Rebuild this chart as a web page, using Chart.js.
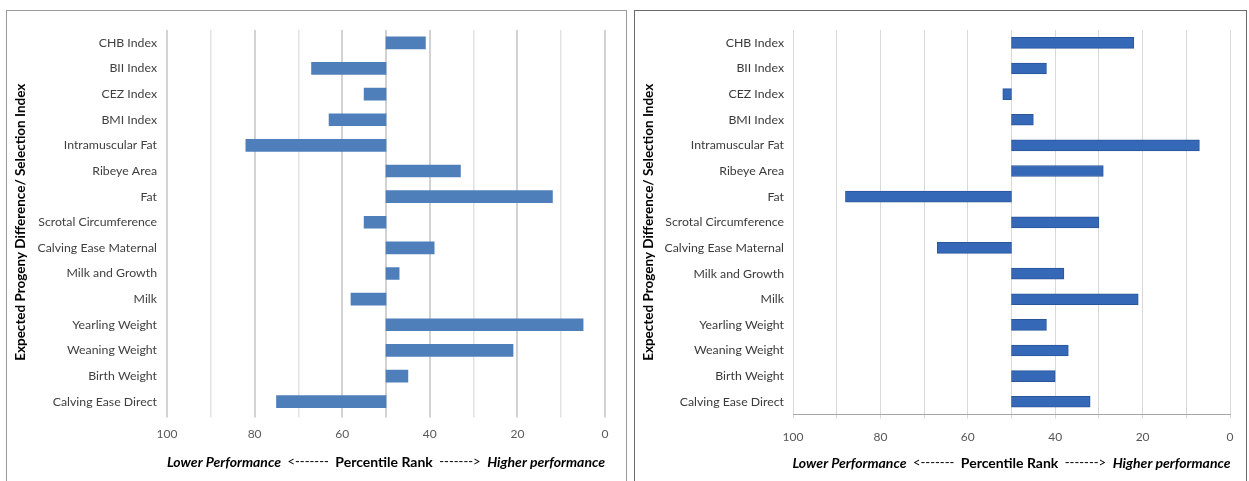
<!DOCTYPE html>
<html>
<head>
<meta charset="utf-8">
<script src="https://cdn.jsdelivr.net/npm/chart.js@4.4.1/dist/chart.umd.min.js"></script>
<style>
  html, body { margin: 0; padding: 0; background: #fff; width: 1249px; height: 481px; overflow: hidden; }
  .panel { position: absolute; box-sizing: border-box; background: #fff; }
  #p1 { left: 6px; top: 10px; width: 621px; height: 480px; border: 1px solid #9a9a9a; }
  #p2 { left: 634px; top: 10px; width: 613px; height: 480px; border: 1px solid #6a6a6a; }
  canvas { display: block; }
</style>
</head>
<body>
<div class="panel" id="p1"><canvas id="c1" width="619" height="478"></canvas></div>
<div class="panel" id="p2"><canvas id="c2" width="611" height="478"></canvas></div>
<script>
// ---- data ----
const categories = [
  'CHB Index', 'BII Index', 'CEZ Index', 'BMI Index', 'Intramuscular Fat',
  'Ribeye Area', 'Fat', 'Scrotal Circumference', 'Calving Ease Maternal',
  'Milk and Growth', 'Milk', 'Yearling Weight', 'Weaning Weight',
  'Birth Weight', 'Calving Ease Direct'
];
// percentile rank of each trait (bars start at the 50th percentile)
const leftValues  = [41, 67, 55, 63, 82, 33, 12, 55, 39, 47, 58, 5, 21, 45, 75];
const rightValues = [22, 42, 52, 45, 7, 29, 88, 30, 67, 38, 21, 42, 37, 40, 32];
const baseValue = 50;
const tickValues = [100, 80, 60, 40, 20, 0];
const yTitle = 'Expected Progeny Difference/ Selection Index';
const xTitleParts = ['Lower Performance', '<-------', 'Percentile Rank', '------->', 'Higher performance'];

// ---- drawing ----
Chart.defaults.font.family = 'Lato, "Liberation Sans", sans-serif';

const xTitlePlugin = {
  id: 'xTitle',
  afterDraw(chart, args, opts) {
    const ctx = chart.ctx;
    const area = chart.chartArea;
    const fonts = [
      'italic bold 14px Lato', '13px Lato', 'bold 14px Lato', '13px Lato', 'italic bold 14px Lato'
    ];
    const gap = 6.5;
    let widths = xTitleParts.map((t, i) => { ctx.font = fonts[i]; return ctx.measureText(t).width; });
    const total = widths.reduce((a, b) => a + b, 0) + gap * (xTitleParts.length - 1);
    let x = (area.left + area.right) / 2 - total / 2;
    ctx.save();
    ctx.fillStyle = opts.color || '#000';
    ctx.textBaseline = 'middle';
    ctx.textAlign = 'left';
    xTitleParts.forEach((t, i) => {
      ctx.font = fonts[i];
      ctx.fillText(t, x, opts.y);
      x += widths[i] + gap;
    });
    ctx.restore();
  }
};

function makeChart(id, values, s) {
  return new Chart(document.getElementById(id), {
    type: 'bar',
    data: {
      labels: categories,
      datasets: [{
        data: values.map(v => [baseValue, v]),
        backgroundColor: s.barColor,
        borderColor: s.barBorder,
        borderWidth: s.barBorderWidth,
        borderSkipped: false,
        barThickness: s.barThickness
      }]
    },
    options: {
      indexAxis: 'y',
      responsive: false,
      animation: false,
      layout: { padding: { top: s.padTop, right: s.padRight, left: 0, bottom: 0 } },
      plugins: {
        legend: { display: false },
        tooltip: { enabled: false },
        xTitle: { y: s.titleY, color: '#000' }
      },
      scales: {
        x: {
          type: 'linear',
          min: 0, max: 100, reverse: true,
          afterFit: sc => { sc.height = s.xHeight; },
          ticks: {
            stepSize: 10, autoSkip: false, maxRotation: 0,
            padding: s.tickPad,
            color: s.tickColor,
            font: { size: 12 },
            callback: v => tickValues.includes(v) ? String(v) : ''
          },
          grid: {
            drawTicks: true, tickLength: s.tickLen,
            color: c => s.gridColor(c.tick ? c.tick.value : 0),
            lineWidth: c => s.gridWidth(c.tick ? c.tick.value : 0)
          },
          border: { display: s.xBorder, color: '#a6a6a6', width: 1 }
        },
        y: {
          afterFit: sc => { sc.width = s.yWidth; },
          ticks: { padding: s.yPad, color: s.labelColor, font: { size: 12.3 }, autoSkip: false },
          grid: { display: false, drawTicks: false },
          border: { display: false },
          title: {
            display: true, text: yTitle, color: '#000',
            font: { size: 13.5, weight: 'bold' },
            padding: { top: 6, bottom: 0 }
          }
        }
      }
    },
    plugins: [xTitlePlugin]
  });
}

makeChart('c1', leftValues, {
  barColor: '#4f7fba', barBorder: '#4f7fba', barBorderWidth: 0, barThickness: 12,
  padTop: 19, padRight: 21, xHeight: 74.5, yWidth: 160, yPad: 10,
  tickPad: 9, tickLen: 3, tickColor: '#595959', labelColor: '#404040',
  gridColor: v => (v % 20 === 0 || v === 50) ? '#d2d2d2' : '#e2e2e2',
  gridWidth: v => (v % 20 === 0 || v === 50) ? 2 : 1.5,
  xBorder: false, titleY: 451
});

makeChart('c2', rightValues, {
  barColor: '#3668b8', barBorder: '#2b5599', barBorderWidth: 1, barThickness: 11,
  padTop: 19, padRight: 16, xHeight: 74.4, yWidth: 158, yPad: 9,
  tickPad: 11, tickLen: 4, tickColor: '#555555', labelColor: '#3a3a3a',
  gridColor: v => '#d9d9d9',
  gridWidth: v => 1,
  xBorder: true, titleY: 452
});
</script>
</body>
</html>
